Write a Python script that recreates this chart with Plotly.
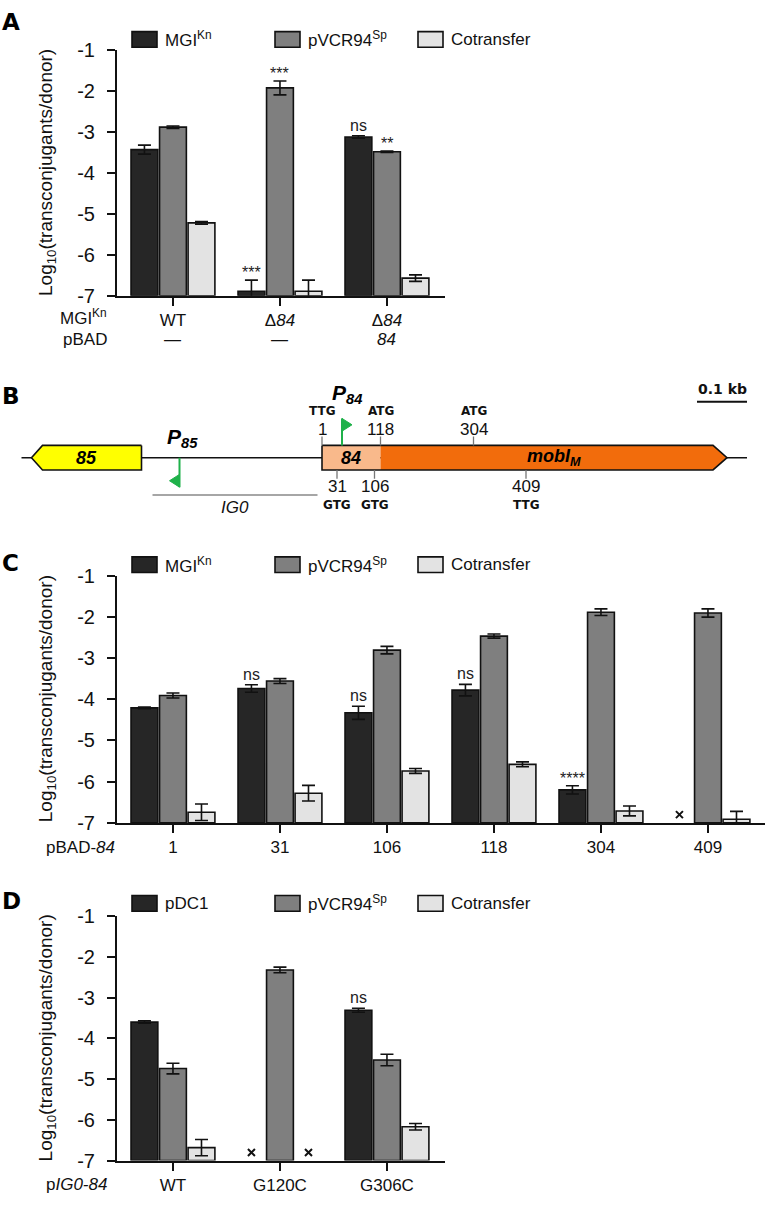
import numpy as np
import plotly.graph_objects as go

W, H = 766, 1205

""" Data """
series_names = ["MGI<sup>Kn</sup>", "pVCR94<sup>Sp</sup>", "Cotransfer"]
series_names_d = ["pDC1", "pVCR94<sup>Sp</sup>", "Cotransfer"]
bar_colors = ["#262626", "#7f7f7f", "#e3e3e3"]

# panel A
a_groups = ["WT", "Δ<i>84</i>", "Δ<i>84</i>"]
a_pbad = ["—", "—", "<i>84</i>"]
a_mgi = [-3.43, -6.89, -3.12]
a_mgi_err = [0.11, 0.27, 0.03]
a_pvcr = [-2.88, -1.92, -3.48]
a_pvcr_err = [0.03, 0.17, 0.015]
a_cot = [-5.22, -6.89, -6.57]
a_cot_err = [0.03, 0.27, 0.08]
a_sig = [(1, 0, "***"), (1, 1, "***"), (2, 0, "ns"), (2, 1, "**")]

# panel C
c_groups = ["1", "31", "106", "118", "304", "409"]
c_mgi = [-4.21, -3.74, -4.33, -3.78, -6.20, None]
c_mgi_err = [0.02, 0.09, 0.16, 0.14, 0.10, None]
c_pvcr = [-3.91, -3.56, -2.81, -2.47, -1.89, -1.91]
c_pvcr_err = [0.06, 0.06, 0.09, 0.05, 0.08, 0.10]
c_cot = [-6.74, -6.28, -5.74, -5.58, -6.71, -6.91]
c_cot_err = [0.20, 0.19, 0.06, 0.06, 0.12, 0.19]
c_sig = [(1, 0, "ns"), (2, 0, "ns"), (3, 0, "ns"), (4, 0, "****")]
c_absent = [(5, 0)]

# panel D
d_groups = ["WT", "G120C", "G306C"]
d_pdc = [-3.60, None, -3.31]
d_pdc_err = [0.03, None, 0.05]
d_pvcr = [-4.74, -2.32, -4.53]
d_pvcr_err = [0.13, 0.07, 0.14]
d_cot = [-6.68, None, -6.17]
d_cot_err = [0.20, None, 0.08]
d_sig = [(2, 0, "ns")]
d_absent = [(1, 0), (1, 2)]

# panel B: gene map (bp, position 1 = first codon of 84)
gene_names = ["85", "84", "mobI<sub>M</sub>"]
gene_left = [-580, 1, 118]
gene_right = [-360, 118, 811]
gene_strand = [-1, 0, 1]
gene_colors = ["#ffff00", "#f9b98b", "#f26c0c"]
codon_pos = [1, 31, 106, 118, 304, 409]
codon_name = ["TTG", "GTG", "GTG", "ATG", "ATG", "TTG"]
codon_side = [1, -1, -1, 1, 1, -1]
prom_names = ["P<sub>85</sub>", "P<sub>84</sub>"]
prom_pos = [-284, 41]
prom_dir = [-1, 1]
ig0 = [-338, -8]
map_span = [-600, 851]
scale_bar = [751, 851]

BAR_FONT = "Liberation Sans, Arial, sans-serif"
BOLD_FONT = "DejaVu Sans, Verdana, sans-serif"
INK = "#111111"


def px(x):
    return x / W


def py(y):
    return 1 - y / H


fig = go.Figure()
annotations = []
shapes = []

BARGAP = 0.2
SLOT = (1 - BARGAP) / 3
UNIT = 107  # px per category


def note(x, y, text, size, xref="paper", yref="paper", xanchor="center", font=BAR_FONT, **kw):
    if xref == "paper":
        x = px(x)
    if yref == "paper":
        y = py(y)
    d = dict(x=x, y=y, xref=xref, yref=yref, text=text, showarrow=False,
             xanchor=xanchor, yanchor=kw.pop("yanchor", "middle"),
             font=dict(size=size, family=font, color=kw.pop("color", INK)))
    d.update(kw)
    annotations.append(d)


def bar_panel(n, groups, values, errors, names, sig, absent, top, bottom, right, legend_y):
    xa = "x" if n == 1 else "x%d" % n
    ya = "y" if n == 1 else "y%d" % n
    xs = list(range(len(groups)))
    for vals, errs, color in zip(values, errors, bar_colors):
        fig.add_trace(go.Bar(
            x=xs, y=[None if v is None else v + 7 for v in vals], base=-7,
            marker=dict(color=color, line=dict(color=INK, width=1.6)),
            error_y=dict(type="data", array=[0 if e is None else e for e in errs],
                         color=INK, thickness=1.6, width=6.5),
            xaxis=xa, yaxis=ya, showlegend=False,
        ))
    if absent:
        fig.add_trace(go.Scatter(
            x=[g + (i - 1) * SLOT for g, i in absent], y=[-6.8] * len(absent),
            mode="markers", xaxis=xa, yaxis=ya, showlegend=False,
            marker=dict(symbol="x-thin", size=7, line=dict(width=2, color=INK)),
        ))
    for g, i, txt in sig:
        v = values[i][g] + errors[i][g]
        note(g + (i - 1) * SLOT, v, txt, 16, xref=xa, yref=ya, yanchor="bottom",
             yshift=0 if txt == "ns" else -3, color="#222")
    axis_x = dict(
        domain=[px(117), px(right)], range=[-0.523, -0.523 + (right - 117) / UNIT],
        anchor=ya, showline=True, linewidth=2, linecolor=INK, ticks="outside",
        ticklen=8, tickwidth=2, tickcolor=INK, tickvals=xs, ticktext=groups,
        tickfont=dict(size=17, family=BAR_FONT, color=INK), showgrid=False, zeroline=False,
    )
    axis_y = dict(
        domain=[py(bottom), py(top)], range=[-7, -1], anchor=xa, showline=True,
        linewidth=2, linecolor=INK, ticks="outside", ticklen=8, tickwidth=2,
        tickcolor=INK, tickvals=list(range(-1, -8, -1)),
        ticktext=["-%d" % k for k in range(1, 8)], ticklabelstandoff=8,
        tickfont=dict(size=20, family=BAR_FONT, color=INK), showgrid=False, zeroline=False,
    )
    fig.layout["xaxis" if n == 1 else "xaxis%d" % n] = axis_x
    fig.layout["yaxis" if n == 1 else "yaxis%d" % n] = axis_y
    # y title
    note(47, (top + bottom) / 2, "Log<sub>10</sub>(transconjugants/donor)", 19, textangle=-90)
    # legend row
    for k, (lx, name) in enumerate(zip([132, 275, 418], names)):
        shapes.append(dict(
            type="rect", xref="paper", yref="paper", x0=px(lx), x1=px(lx + 25),
            y0=py(legend_y + 8), y1=py(legend_y - 8), fillcolor=bar_colors[k],
            line=dict(color=INK, width=1.6),
        ))
        note(lx + 31, legend_y, name, 17, xanchor="left")


bar_panel(1, a_groups, [a_mgi, a_pvcr, a_cot], [a_mgi_err, a_pvcr_err, a_cot_err],
          series_names, a_sig, [], 40, 290, 445, 29)
bar_panel(2, c_groups, [c_mgi, c_pvcr, c_cot], [c_mgi_err, c_pvcr_err, c_cot_err],
          series_names, c_sig, c_absent, 575, 827, 765, 564)
bar_panel(3, d_groups, [d_pdc, d_pvcr, d_cot], [d_pdc_err, d_pvcr_err, d_cot_err],
          series_names_d, d_sig, d_absent, 922, 1171, 445, 909)

# row labels under the bar charts
note(109, 312, "MGI<sup>Kn</sup>", 17, xanchor="right")
note(109, 335, "pBAD", 17, xanchor="right")
for g, txt in enumerate(a_pbad):
    note(g, 335, txt, 17, xref="x")
note(117, 852, "pBAD-<i>84</i>", 17, xanchor="right")
note(109, 1195, "p<i>IG0-84</i>", 17, xanchor="right")

# panel letters
for letter, ly in zip("ABCD", [11, 392, 562, 907]):
    note(0, ly, "<b>%s</b>" % letter, 23, xanchor="left", font=BOLD_FONT, color="#000")

""" Panel B: gene map """
HALF = 12.5
HEAD = [22, 0, 28]
bx = dict(xaxis="x4", yaxis="y4", showlegend=False, hoverinfo="skip")

fig.add_trace(go.Scatter(x=map_span, y=[0, 0], mode="lines", line=dict(color=INK, width=1.6), **bx))
for name, left, right, strand, color, head in zip(gene_names, gene_left, gene_right,
                                                  gene_strand, gene_colors, HEAD):
    if strand < 0:
        gx = [right, left + head, left, left + head, right, right]
        gy = [HALF, HALF, 0, -HALF, -HALF, HALF]
    elif strand > 0:
        gx = [left, right - head, right, right - head, left, left]
        gy = [HALF, HALF, 0, -HALF, -HALF, HALF]
    else:
        gx = [left, right, right, left, left]
        gy = [HALF, HALF, -HALF, -HALF, HALF]
    fig.add_trace(go.Scatter(x=gx, y=gy, fill="toself", fillcolor=color, mode="lines",
                             line=dict(width=0, color=color), **bx))
    note((left + right) / 2, 0, "<b><i>%s</i></b>" % name, 18, xref="x4", yref="y4", color="#000")
# outlines
fig.add_trace(go.Scatter(
    x=[gene_right[0], gene_left[0] + HEAD[0], gene_left[0], gene_left[0] + HEAD[0],
       gene_right[0], gene_right[0]],
    y=[HALF, HALF, 0, -HALF, -HALF, HALF], mode="lines", line=dict(color=INK, width=1.6), **bx))
fig.add_trace(go.Scatter(
    x=[gene_left[1], gene_right[2] - HEAD[2], gene_right[2], gene_right[2] - HEAD[2],
       gene_left[1], gene_left[1]],
    y=[HALF, HALF, 0, -HALF, -HALF, HALF], mode="lines", line=dict(color=INK, width=1.6), **bx))

# start codons
for pos, cod, side in zip(codon_pos, codon_name, codon_side):
    fig.add_trace(go.Scatter(x=[pos, pos], y=[side * HALF, side * (HALF + 9)], mode="lines",
                             line=dict(color="#777777", width=1.3), **bx))
    note(pos, side * 29, str(pos), 17, xref="x4", yref="y4")
    note(pos, side * 48, "<b>%s</b>" % cod, 12, xref="x4", yref="y4", font=BOLD_FONT)

# promoters
GREEN = "#1fb14a"
for name, pos, d in zip(prom_names, prom_pos, prom_dir):
    if d > 0:
        y0, y1, ly = HALF, 40, 65
    else:
        y0, y1, ly = 0, -30, 20
    fig.add_trace(go.Scatter(x=[pos, pos], y=[y0, y1], mode="lines",
                             line=dict(color=GREEN, width=2), **bx))
    s = 1 if y1 > 0 else -1
    fig.add_trace(go.Scatter(x=[pos, pos + d * 20, pos, pos],
                             y=[y1, y1 - s * 6.5, y1 - s * 13, y1], fill="toself",
                             fillcolor=GREEN, mode="lines", line=dict(color=GREEN, width=1), **bx))
    note(pos + (6 if d < 0 else 10), ly, "<b><i>%s</i></b>" % name, 21,
         xref="x4", yref="y4", color="#000")

# IG0 region
fig.add_trace(go.Scatter(x=ig0, y=[-38, -38], mode="lines", line=dict(color="#888888", width=1.5), **bx))
note(sum(ig0) / 2, -51, "<i>IG0</i>", 17, xref="x4", yref="y4")

# scale bar
fig.add_trace(go.Scatter(x=scale_bar, y=[57, 57], mode="lines", line=dict(color=INK, width=2), **bx))
note(sum(scale_bar) / 2, 70, "<b>0.1 kb</b>", 14, xref="x4", yref="y4", font=BOLD_FONT)

fig.update_layout(
    width=W, height=H, margin=dict(l=0, r=0, t=0, b=0),
    paper_bgcolor="white", plot_bgcolor="rgba(0,0,0,0)",
    barmode="group", bargap=BARGAP, bargroupgap=0.06,
    xaxis4=dict(domain=[0, 1], range=[-643, 889], visible=False, anchor="y4"),
    yaxis4=dict(domain=[py(515), py(375)], range=[-60, 80], visible=False, anchor="x4"),
    annotations=annotations, shapes=shapes,
)

fig.write_html(
    "out.html", config={"displayModeBar": False},
    post_script="document.body.style.margin='0';document.body.style.overflow='hidden';",
)
